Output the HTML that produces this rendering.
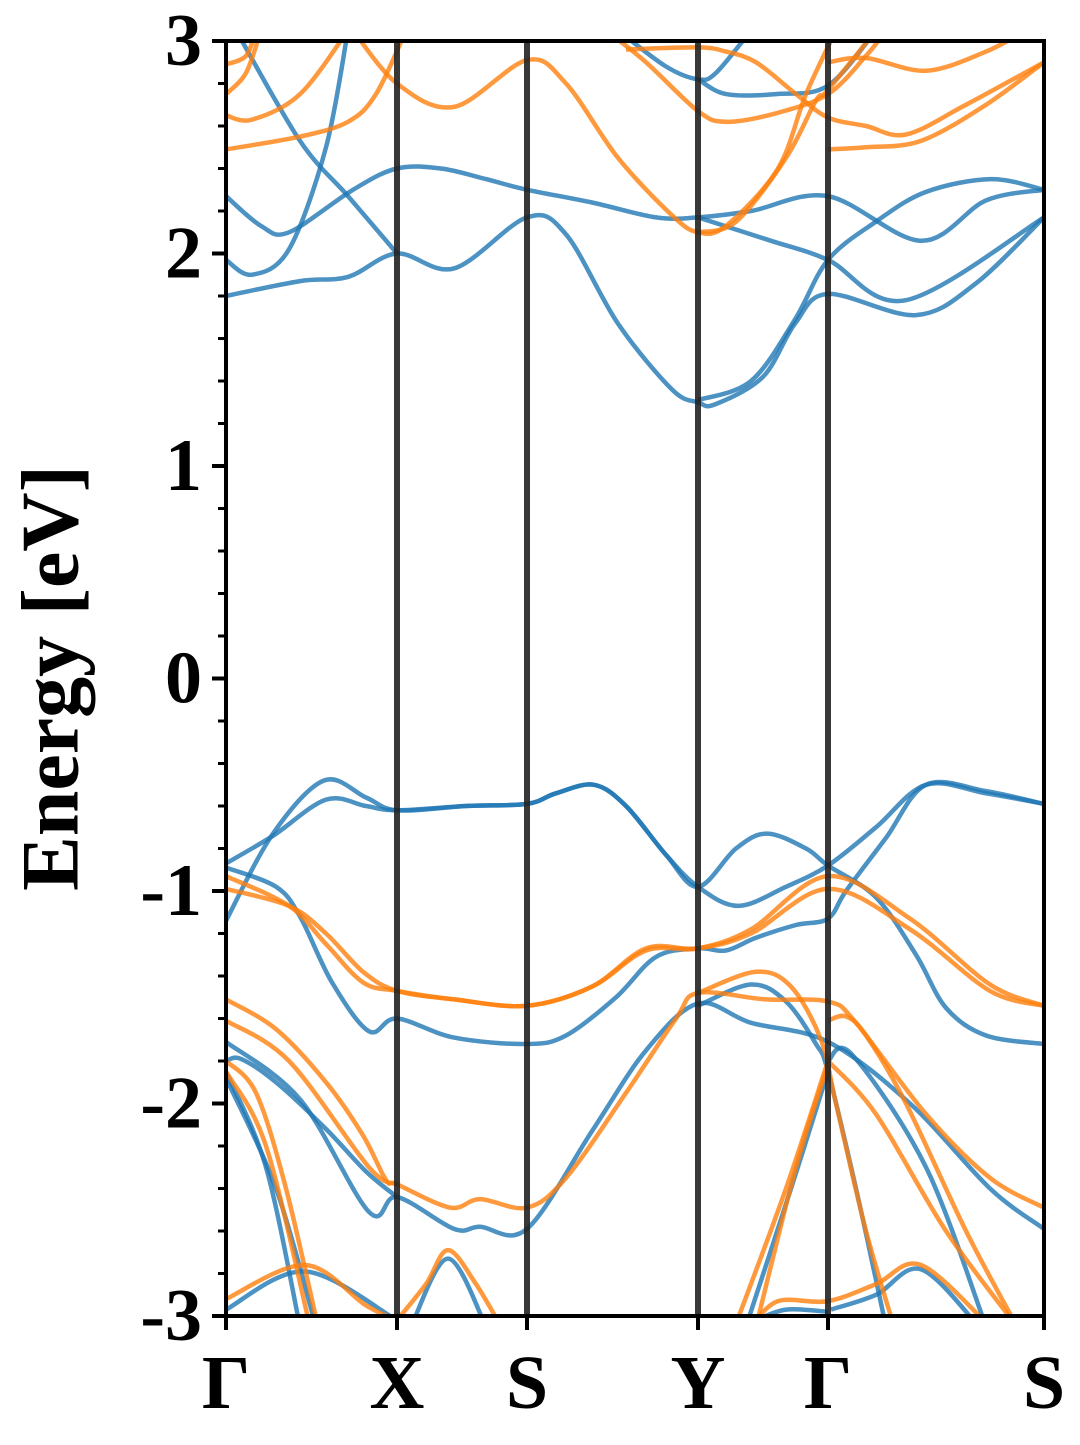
<!DOCTYPE html>
<html><head><meta charset="utf-8"><style>
html,body{margin:0;padding:0;background:#fff;}
svg text{font-family:"Liberation Serif",serif;font-weight:bold;fill:#000;}
</style></head><body>
<svg id="chart" width="1080" height="1440" viewBox="0 0 1080 1440" xmlns="http://www.w3.org/2000/svg">
<defs><clipPath id="plotclip"><rect x="226" y="41" width="818" height="1275"/></clipPath></defs>
<g id="bands" clip-path="url(#plotclip)"></g>
<g id="vlines"></g>
<rect x="226" y="41" width="818" height="1275" fill="none" stroke="#000" stroke-width="4"/>
<g id="axes"></g>
<text x="50" y="678" font-size="82" text-anchor="middle" dominant-baseline="central" transform="rotate(-90 50 678)">Energy [eV]</text>
</svg>
<script>
const kPointLabels = ["Γ","X","S","Y","Γ","S"];
const kPointPos = [0,171,301,472,602,818];
const yTicks = [-3,-2,-1,0,1,2,3];
const yTickLabels = ["-3","-2","-1","0","1","2","3"];
const yMin = -3, yMax = 3;

const blueBands = [
 [[0,1.80],[74,1.87],[122,1.89],[171,2.0],[228,1.93],[301,2.17],[340,2.09],[392,1.67],[446,1.36],[472,1.30],[489,1.29],[537,1.42],[569,1.67],[602,1.81],[690,1.71],[750,1.86],[818,2.17]],
 [[472,1.31],[525,1.40],[569,1.69],[602,1.97],[650,2.15],[700,2.29],[765,2.35],[818,2.30]],
 [[0,2.27],[35,2.13],[63,2.10],[127,2.30],[171,2.40],[215,2.40],[260,2.35],[301,2.30],[366,2.24],[430,2.17],[472,2.17],[525,2.20],[602,2.27],[695,2.06],[760,2.25],[818,2.30]],
 [[472,2.17],[545,2.06],[602,1.97],[680,1.78],[818,2.17]],
 [[0,1.97],[26,1.90],[63,2.02],[100,2.5],[122,3.05]],
 [[10,3.05],[74,2.53],[122,2.27],[171,2.0]],
 [[392,3.05],[440,2.88],[472,2.82],[490,2.85],[525,3.05]],
 [[472,2.82],[500,2.75],[550,2.75],[602,2.79],[650,3.05]],
 [[0,-1.14],[47,-0.73],[98,-0.48],[140,-0.56],[171,-0.62],[240,-0.60],[301,-0.59],[330,-0.54],[368,-0.50],[400,-0.60],[440,-0.83],[472,-0.98],[510,-0.80],[541,-0.73],[580,-0.80],[602,-0.88],[650,-1.03],[690,-1.30],[720,-1.55],[760,-1.68],[818,-1.72]],
 [[0,-0.87],[47,-0.74],[100,-0.57],[140,-0.60],[171,-0.62],[240,-0.60],[301,-0.59],[330,-0.54],[368,-0.50],[400,-0.60],[440,-0.83],[472,-0.98],[512,-1.07],[560,-0.98],[602,-0.88],[650,-0.70],[700,-0.50],[760,-0.54],[818,-0.59]],
 [[0,-0.89],[50,-0.98],[74,-1.12],[106,-1.43],[143,-1.66],[171,-1.60],[228,-1.69],[301,-1.72],[340,-1.68],[390,-1.50],[430,-1.31],[472,-1.27],[500,-1.28],[530,-1.22],[570,-1.16],[602,-1.13],[620,-1.0],[660,-0.75],[700,-0.50],[760,-0.53],[818,-0.59]],
 [[472,-1.54],[525,-1.44],[560,-1.52],[590,-1.72],[602,-1.85],[630,-2.4],[660,-3.05]],
 [[0,-1.71],[74,-1.98],[143,-2.51],[171,-2.44],[228,-2.59],[254,-2.58],[301,-2.59],[366,-2.13],[420,-1.75],[472,-1.53],[525,-1.62],[602,-1.71],[684,-2.0],[764,-2.40],[818,-2.59]],
 [[0,-1.80],[15,-1.79],[50,-1.90],[100,-2.12],[140,-2.32],[171,-2.44]],
 [[0,-1.85],[40,-2.3],[74,-3.05]],
 [[0,-1.88],[50,-2.4],[90,-3.05]],
 [[520,-3.05],[565,-2.4],[602,-1.85]],
 [[602,-1.80],[626,-1.77],[700,-2.3],[760,-3.05]],
 [[0,-2.97],[79,-2.79],[171,-3.02]],
 [[185,-3.05],[222,-2.73],[260,-3.05]],
 [[605,-2.97],[650,-2.9],[695,-2.78],[753,-3.05]],
 [[530,-3.02],[560,-2.97],[602,-2.98]]
];
const orangeBands = [
 [[127,3.05],[171,2.80],[228,2.69],[301,2.91],[340,2.80],[392,2.45],[446,2.18],[472,2.10],[500,2.13],[552,2.40],[580,2.75],[610,3.05]],
 [[472,2.10],[510,2.15],[560,2.45],[590,2.72],[602,2.77],[650,3.05]],
 [[0,2.49],[74,2.55],[122,2.62],[150,2.75],[180,3.05]],
 [[0,2.65],[26,2.63],[74,2.75],[122,3.05]],
 [[0,2.75],[20,2.85],[35,3.05]],
 [[0,2.89],[20,2.93],[30,3.05]],
 [[380,3.05],[420,2.90],[472,2.67],[500,2.62],[550,2.66],[602,2.75],[640,2.93],[660,3.05]],
 [[400,2.96],[472,2.97],[500,2.95],[530,2.90],[570,2.75],[602,2.64],[640,2.60],[680,2.56],[740,2.70],[818,2.90]],
 [[602,2.49],[640,2.50],[695,2.53],[760,2.70],[818,2.90]],
 [[602,2.90],[640,2.92],[700,2.86],[760,2.95],[800,3.05]],
 [[0,-0.93],[63,-1.07],[100,-1.25],[137,-1.43],[171,-1.47],[228,-1.51],[301,-1.54],[366,-1.45],[420,-1.28],[472,-1.27],[525,-1.18],[602,-0.93],[684,-1.13],[764,-1.44],[818,-1.54]],
 [[0,-0.99],[63,-1.07],[100,-1.20],[137,-1.38],[171,-1.47],[228,-1.51],[301,-1.54],[366,-1.45],[420,-1.27],[472,-1.27],[525,-1.20],[602,-0.99],[684,-1.18],[764,-1.47],[818,-1.54]],
 [[472,-1.48],[530,-1.38],[565,-1.45],[595,-1.7],[610,-2.0],[640,-2.6],[668,-3.05]],
 [[0,-1.51],[50,-1.65],[100,-1.90],[137,-2.15],[160,-2.36],[171,-2.38],[224,-2.49],[254,-2.45],[301,-2.49],[340,-2.35],[400,-1.95],[450,-1.60],[472,-1.48],[540,-1.51],[602,-1.52],[630,-1.62],[700,-2.05],[764,-2.35],[818,-2.49]],
 [[602,-1.61],[620,-1.59],[640,-1.68],[680,-2.0],[740,-2.6],[791,-3.05]],
 [[0,-1.61],[63,-1.80],[143,-2.30],[171,-2.38]],
 [[0,-1.80],[30,-1.95],[60,-2.4],[92,-3.05]],
 [[0,-1.85],[40,-2.2],[84,-3.05]],
 [[509,-3.05],[560,-2.4],[602,-1.80]],
 [[530,-3.05],[570,-2.3],[602,-1.82]],
 [[602,-1.80],[650,-2.05],[720,-2.6],[791,-3.05]],
 [[0,-2.92],[79,-2.76],[140,-2.95],[171,-3.02]],
 [[171,-3.02],[200,-2.85],[222,-2.69],[250,-2.85],[275,-3.05]],
 [[525,-3.05],[552,-2.93],[602,-2.93],[650,-2.85],[695,-2.76],[764,-3.05]]
];

const X0=226, X1=1044, Y0=41, Y1=1316;
const kMax = kPointPos[kPointPos.length-1];
function xScale(k){return X0 + (k/kMax)*(X1-X0);}
function yScale(e){return Y1 - (e-yMin)/(yMax-yMin)*(Y1-Y0);}
const NS="http://www.w3.org/2000/svg";

function pathFor(pts){
  const p = pts.map(d=>[xScale(d[0]), yScale(d[1])]);
  let s = "M"+p[0][0].toFixed(1)+","+p[0][1].toFixed(1);
  for(let i=0;i<p.length-1;i++){
    const a=p[i-1]||p[i], b=p[i], c=p[i+1], d=p[i+2]||c;
    const c1=[b[0]+(c[0]-a[0])/6, b[1]+(c[1]-a[1])/6];
    const c2=[c[0]-(d[0]-b[0])/6, c[1]-(d[1]-b[1])/6];
    s+=" C"+c1[0].toFixed(1)+","+c1[1].toFixed(1)+" "+c2[0].toFixed(1)+","+c2[1].toFixed(1)+" "+c[0].toFixed(1)+","+c[1].toFixed(1);
  }
  return s;
}
const gB=document.getElementById("bands");
function drawBands(list,color,name){
  list.forEach((b,i)=>{
    const el=document.createElementNS(NS,"path");
    el.setAttribute("d",pathFor(b));
    el.setAttribute("fill","none");
    el.setAttribute("stroke",color);
    el.setAttribute("stroke-width","4.5");
    el.setAttribute("stroke-opacity","0.8");
    
    
    gB.appendChild(el);
  });
}
drawBands(blueBands,"#1f77b4","spin-up-band");
drawBands(orangeBands,"#ff7f0e","spin-down-band");

const gV=document.getElementById("vlines");
kPointPos.forEach((k,i)=>{
  if(i===0||i===kPointPos.length-1) return;
  const l=document.createElementNS(NS,"line");
  l.setAttribute("x1",xScale(k));l.setAttribute("x2",xScale(k));
  l.setAttribute("y1",Y0);l.setAttribute("y2",Y1);
  l.setAttribute("stroke","#222");l.setAttribute("stroke-width","6");l.setAttribute("stroke-opacity","0.9");
  
  
  gV.appendChild(l);
});

const gA=document.getElementById("axes");
for(let v=yMin; v<=yMax+1e-9; v+=0.2){
  const major=Math.abs(v-Math.round(v))<1e-6;
  const t=document.createElementNS(NS,"line");
  const y=yScale(v);
  t.setAttribute("x1",X0);t.setAttribute("x2",X0-(major?14:8));
  t.setAttribute("y1",y);t.setAttribute("y2",y);
  t.setAttribute("stroke","#000");t.setAttribute("stroke-width",major?"4":"3");
  
  
  gA.appendChild(t);
}
yTicks.forEach((v,i)=>{
  const tx=document.createElementNS(NS,"text");
  tx.setAttribute("x",X0-24);tx.setAttribute("y",yScale(v));
  tx.setAttribute("text-anchor","end");tx.setAttribute("dominant-baseline","central");
  tx.setAttribute("font-size","74");
  tx.textContent=yTickLabels[i];
  
  
  gA.appendChild(tx);
});
kPointPos.forEach((k,i)=>{
  const x=xScale(k);
  const t=document.createElementNS(NS,"line");
  t.setAttribute("x1",x);t.setAttribute("x2",x);t.setAttribute("y1",Y1);t.setAttribute("y2",Y1+14);
  t.setAttribute("stroke","#000");t.setAttribute("stroke-width","4");
  
  
  gA.appendChild(t);
  const tx=document.createElementNS(NS,"text");
  tx.setAttribute("x",x);tx.setAttribute("y",1408);
  tx.setAttribute("text-anchor","middle");tx.setAttribute("font-size","76");
  tx.textContent=kPointLabels[i];
  
  
  gA.appendChild(tx);
});
</script>
</body></html>
